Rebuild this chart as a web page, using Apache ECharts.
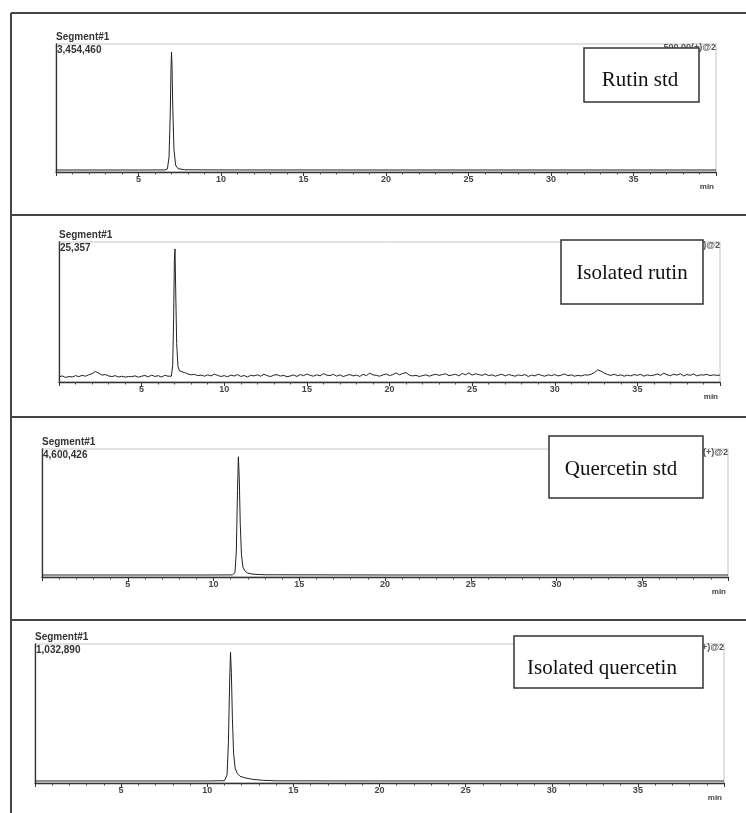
<!DOCTYPE html>
<html>
<head>
<meta charset="utf-8">
<script src="https://cdn.jsdelivr.net/npm/echarts@6/dist/echarts.min.js"></script>
<style>
html,body{margin:0;padding:0;background:#fff;}
#chart{width:746px;height:813px;}
</style>
</head>
<body>
<div id="chart"></div>
<script>
// ---------- DATA ----------
const panelTitles = ['Rutin std', 'Isolated rutin', 'Quercetin std', 'Isolated quercetin'];
const segmentLabel = 'Segment#1';
const yMaxLabels = ['3,454,460', '25,357', '4,600,426', '1,032,890'];
const yMaxValues = [3454460, 25357, 4600426, 1032890];
const channelLabel = '500.00(+)@2';
const xUnit = 'min';

// Rutin standard
const rutinStdTime   = [0, 5, 6.6, 6.75, 6.85, 6.92, 6.97, 7.0, 7.03, 7.08, 7.15, 7.25, 7.4, 7.8, 10, 20, 30, 40];
const rutinStdSignal = [54000, 54000, 56000, 80000, 400000, 1500000, 2800000, 3240000, 2900000, 1700000, 600000, 180000, 90000, 60000, 55000, 54000, 54000, 54000];

// Isolated rutin: noisy baseline sampled every 0.2 min (0..40) + peak
const isoRutinNoiseStep = 0.2;
const isoRutinNoise = [
  950, 1100, 820, 1000, 900, 1150, 980, 1200, 1050, 1300,
  1500, 1900, 1600, 1250, 1350, 1100, 980, 1150, 900, 1050,
  880, 1000, 950, 1120, 870, 1050, 1180, 930, 1250, 1000,
  1150, 900, 1200, 1050, 1000, 1000, 1000, 1000, 1700, 1450,
  1300, 1380, 1150, 1250, 1050, 1300, 1100, 1420, 1200, 1000,
  1150, 950, 1250, 1080, 1350, 1000, 1180, 900, 1220, 1100,
  1300, 1050, 1400, 1150, 980, 1250, 1320, 1080, 1200, 950,
  1100, 1280, 1000, 1350, 1150, 1450, 1200, 1050, 1300, 1120,
  1500, 1250, 1150, 1400, 1050, 1300, 980, 1200, 1350, 1100,
  1250, 1000, 1400, 1150, 1600, 1300, 1200, 1050, 1280, 1450,
  1150, 1350, 1650, 1300, 1550, 1700, 1250, 1100, 1200, 1000,
  1150, 1300, 1050, 1250, 1400, 1200, 1350, 1500, 1150, 1280,
  1400, 1100, 1550, 1300, 1650, 1250, 1500, 1350, 1200, 1450,
  1150, 1300, 1050, 1250, 1400, 1100, 1350, 1200, 1050, 1280,
  1150, 1350, 1000, 1250, 1100, 1400, 1200, 1050, 1300, 1150,
  1350, 1100, 1250, 1450, 1150, 1300, 1050, 1200, 1100, 1300,
  1250, 1400, 1700, 2200, 1950, 1600, 1350, 1200, 1400, 1150,
  1300, 1050, 1250, 1100, 1350, 1200, 1400, 1050, 1300, 1150,
  1250, 1450, 1200, 1600, 1300, 1150, 1400, 1250, 1500, 1100,
  1350, 1200, 1450, 1100, 1300, 1250, 1400, 1150, 1300, 1200, 1250
];
const isoRutinPeakTime   = [6.8, 6.88, 6.94, 6.98, 7.02, 7.06, 7.12, 7.2, 7.3, 7.42];
const isoRutinPeakSignal = [1050, 3000, 12000, 22000, 24100, 17000, 7000, 2800, 2000, 1700];

// Quercetin standard
const quercStdTime   = [0, 10, 11.1, 11.25, 11.33, 11.4, 11.45, 11.5, 11.56, 11.63, 11.72, 11.85, 12.0, 12.3, 13, 20, 40];
const quercStdSignal = [72000, 72000, 76000, 150000, 900000, 3100000, 4320000, 3600000, 1900000, 800000, 350000, 200000, 140000, 100000, 80000, 72000, 72000];

// Isolated quercetin
const isoQuercTime   = [0, 10, 11.0, 11.15, 11.23, 11.3, 11.35, 11.4, 11.46, 11.53, 11.62, 11.75, 11.9, 12.2, 12.6, 13.2, 14, 20, 40];
const isoQuercSignal = [15000, 15000, 17000, 60000, 300000, 750000, 973000, 820000, 480000, 220000, 110000, 70000, 50000, 38000, 28000, 20000, 16000, 15000, 15000];

// ---------- BUILD ----------
function pairs(t, v) { return t.map((x, i) => [x, v[i]]); }

const isoRutinPts = [];
isoRutinNoise.forEach((v, i) => {
  const t = +(i * isoRutinNoiseStep).toFixed(2);
  if (t < 6.75 || t > 7.45) isoRutinPts.push([t, v]);
});
isoRutinPeakTime.forEach((t, i) => isoRutinPts.push([t, isoRutinPeakSignal[i]]));
isoRutinPts.sort((a, b) => a[0] - b[0]);

const seriesData = [
  pairs(rutinStdTime, rutinStdSignal),
  isoRutinPts,
  pairs(quercStdTime, quercStdSignal),
  pairs(isoQuercTime, isoQuercSignal)
];

// layout (pixels)
const grids = [
  { left: 56, top: 44,  width: 660, height: 128 },
  { left: 59, top: 242, width: 661, height: 140 },
  { left: 42, top: 449, width: 686, height: 128 },
  { left: 35, top: 644, width: 689, height: 139 }
];
const boxes = [
  { x: 584, y: 48,  w: 115, h: 54, tx: 640, ty: 80 },
  { x: 561, y: 240, w: 142, h: 64, tx: 632, ty: 273 },
  { x: 549, y: 436, w: 154, h: 62, tx: 621, ty: 469 },
  { x: 514, y: 636, w: 189, h: 52, tx: 602, ty: 668 }
];
const separatorsY = [13, 215, 417, 620];

const smallFont = 'Liberation Sans, Arial, sans-serif';
const serifFont = 'Liberation Serif, Times New Roman, serif';

const option = {
  backgroundColor: '#fff',
  animation: false,
  grid: grids.map(g => ({
    left: g.left, top: g.top, width: g.width, height: g.height,
    show: true, borderColor: '#c4c4c4', borderWidth: 1, backgroundColor: 'transparent'
  })),
  xAxis: grids.map((g, i) => ({
    type: 'value', gridIndex: i, min: 0, max: 40, interval: 5,
    axisLine: { show: true, lineStyle: { color: '#333', width: 1.3 } },
    axisTick: { show: true, length: 4, lineStyle: { color: '#333', width: 1 } },
    minorTick: { show: true, splitNumber: 5, length: 2.5, lineStyle: { color: '#444', width: 1 } },
    splitLine: { show: false },
    minorSplitLine: { show: false },
    axisLabel: {
      margin: 3, fontSize: 9, fontWeight: 'bold', color: '#444', fontFamily: smallFont,
      formatter: v => (v > 0 && v < 40) ? String(v) : ''
    }
  })),
  yAxis: grids.map((g, i) => ({
    type: 'value', gridIndex: i, min: 0, max: yMaxValues[i],
    axisLine: { show: true, lineStyle: { color: '#333', width: 1.3 } },
    axisTick: { show: false }, axisLabel: { show: false }, splitLine: { show: false }
  })),
  series: seriesData.map((d, i) => ({
    type: 'line', xAxisIndex: i, yAxisIndex: i, data: d,
    showSymbol: false, symbol: 'none',
    lineStyle: { color: '#222', width: 1 }, z: 3
  })),
  graphic: []
};

// frame lines
option.graphic.push({
  type: 'line', z: 50, shape: { x1: 11, y1: 13, x2: 11, y2: 813 },
  style: { stroke: '#444', lineWidth: 2 }
});
separatorsY.forEach(y => option.graphic.push({
  type: 'line', z: 50, shape: { x1: 11, y1: y, x2: 746, y2: y },
  style: { stroke: '#444', lineWidth: 2 }
}));

grids.forEach((g, i) => {
  option.graphic.push({
    type: 'text', z: 60, x: g.left, y: g.top - 1,
    style: { text: segmentLabel, font: 'bold 10px ' + smallFont, fill: '#333',
             textVerticalAlign: 'bottom', backgroundColor: '#fff', padding: [0, 2, 1, 0] }
  });
  option.graphic.push({
    type: 'text', z: 60, x: g.left + 1, y: g.top + 1,
    style: { text: yMaxLabels[i], font: 'bold 10px ' + smallFont, fill: '#333', textVerticalAlign: 'top' }
  });
  option.graphic.push({
    type: 'text', z: 60, x: g.left + g.width, y: g.top + 4,
    style: { text: channelLabel, font: 'bold 9px ' + smallFont, fill: '#555',
             textAlign: 'right', textVerticalAlign: 'middle' }
  });
  option.graphic.push({
    type: 'text', z: 60, x: g.left + g.width - 2, y: g.top + g.height + 15,
    style: { text: xUnit, font: 'bold 8px ' + smallFont, fill: '#444',
             textAlign: 'right', textVerticalAlign: 'middle' }
  });
  const b = boxes[i];
  option.graphic.push({
    type: 'rect', z: 80, shape: { x: b.x, y: b.y, width: b.w, height: b.h },
    style: { fill: '#fff', stroke: '#333', lineWidth: 1.5 }
  });
  option.graphic.push({
    type: 'text', z: 90, x: b.tx, y: b.ty,
    style: { text: panelTitles[i], font: '21px ' + serifFont, fill: '#111',
             textAlign: 'center', textVerticalAlign: 'middle' }
  });
});

const chart = echarts.init(document.getElementById('chart'), null, { renderer: 'canvas' });
chart.setOption(option);
</script>
</body>
</html>
